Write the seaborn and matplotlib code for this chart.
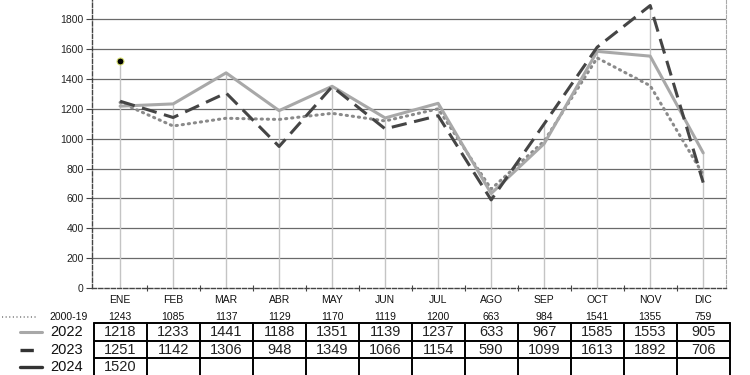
import matplotlib
matplotlib.use('Agg')
import matplotlib.pyplot as plt
import matplotlib.transforms as mtransforms
from matplotlib.lines import Line2D
import seaborn as sns

months = ['ENE', 'FEB', 'MAR', 'ABR', 'MAY', 'JUN', 'JUL', 'AGO', 'SEP', 'OCT', 'NOV', 'DIC']
avg_2000_19 = [1243, 1085, 1137, 1129, 1170, 1119, 1200, 663, 984, 1541, 1355, 759]
vals_2022 = [1218, 1233, 1441, 1188, 1351, 1139, 1237, 633, 967, 1585, 1553, 905]
vals_2023 = [1251, 1142, 1306, 948, 1349, 1066, 1154, 590, 1099, 1613, 1892, 706]
vals_2024 = [1520]
y_ticks = [0, 200, 400, 600, 800, 1000, 1200, 1400, 1600, 1800]

sns.set_style('white')
plt.rcParams['font.family'] = ['Liberation Sans', 'DejaVu Sans']

fig = plt.figure(figsize=(7.5, 3.75), dpi=100)
ax = fig.add_axes([92 / 750, 1 - 288 / 375, (726 - 92) / 750, 288 / 375])

x = list(range(len(months)))
series = [
    ('2000-19', avg_2000_19),
    ('2022', vals_2022),
    ('2023', vals_2023),
    ('2024', vals_2024),
]

# drop lines from the highest value of each month
for i in x:
    top = max(v[i] for _, v in series if i < len(v))
    ax.plot([i, i], [0, top], color='#c4c4c4', lw=1, zorder=1)

# horizontal grid
for t in y_ticks[1:]:
    ax.axhline(t, color='#6a6a6a', lw=0.9, zorder=0)

sns.lineplot(x=x, y=avg_2000_19, ax=ax, color='#8a8a8a', lw=2.2, linestyle=(0, (0.4, 1.6)),
             dash_capstyle='round', zorder=3)
sns.lineplot(x=x, y=vals_2022, ax=ax, color='#a8a8a8', lw=2.2, zorder=4)
sns.lineplot(x=x, y=vals_2023, ax=ax, color='#454545', lw=2.2, linestyle=(0, (5, 2.5)), zorder=5)
sns.lineplot(x=x[:len(vals_2024)], y=vals_2024, ax=ax, color='#2a2a2a', lw=2.2, marker='o',
             markersize=5, markerfacecolor='black', markeredgecolor='#d8e070', markeredgewidth=0.8,
             zorder=6)

ax.set_xlim(-0.53, 11.43)
ax.set_ylim(0, 1929)
ax.set_yticks(y_ticks)
ax.set_yticklabels([str(t) for t in y_ticks], fontsize=7.5, color='#222222')
ax.tick_params(axis='y', direction='out', length=4, width=0.8, color='#444444', pad=2, left=True)
ax.set_xticks([i + 0.5 for i in x[:-1]])
ax.set_xticklabels([])
ax.tick_params(axis='x', direction='inout', length=4, width=0.8, color='#444444', bottom=True)

for side in ['left', 'bottom']:
    ax.spines[side].set_linestyle((0, (3, 1.5)))
    ax.spines[side].set_color('#444444')
    ax.spines[side].set_linewidth(1)
ax.spines['right'].set_linestyle((0, (3, 1.5)))
ax.spines['right'].set_color('#aaaaaa')
ax.spines['right'].set_linewidth(0.8)
ax.spines['top'].set_visible(False)

# data table below the chart
tr = mtransforms.blended_transform_factory(ax.transData, fig.transFigure)
def fy(px):
    return 1 - px / 375

for i, m in enumerate(months):
    ax.text(i, fy(300), m, transform=tr, ha='center', va='center', fontsize=7.5, color='#111111')
    ax.text(i, fy(317), str(avg_2000_19[i]), transform=tr, ha='center', va='center',
            fontsize=7.5, color='#111111')

row_vals = [vals_2022, vals_2023, vals_2024]
row_centers = [332, 350, 367]
for vals, yc in zip(row_vals, row_centers):
    for i, v in enumerate(vals):
        ax.text(i, fy(yc), str(v), transform=tr, ha='center', va='center',
                fontsize=10.5, color='#222222')

for yb in [323, 341, 358]:
    ax.add_line(Line2D([-0.5, 11.5], [fy(yb), fy(yb)], transform=tr, color='black',
                       lw=1.4, clip_on=False))
for xb in [i - 0.5 for i in range(len(months) + 1)]:
    ax.add_line(Line2D([xb, xb], [fy(323), fy(380)], transform=tr, color='black',
                       lw=1.4, clip_on=False))

# row legend on the left
legend_rows = [
    ('2000-19', 317, dict(color='#8a8a8a', lw=1.3, linestyle=(0, (0.6, 1.4))), 2, 38, 7.5),
    ('2022', 332, dict(color='#a8a8a8', lw=2.2, linestyle='-'), 20, 42, 10.5),
    ('2023', 350, dict(color='#333333', lw=2.4, linestyle=(0, (4, 3))), 20, 42, 10.5),
    ('2024', 367, dict(color='#333333', lw=2.4, linestyle='-'), 20, 42, 10.5),
]
for label, yc, style, x0, x1, fs in legend_rows:
    fig.add_artist(Line2D([x0 / 750, x1 / 750], [fy(yc), fy(yc)], transform=fig.transFigure, **style))
    fig.text(88 / 750 if fs < 9 else 83 / 750, fy(yc), label, ha='right', va='center',
             fontsize=fs, color='#111111')

fig.savefig('out.png', dpi=100)
